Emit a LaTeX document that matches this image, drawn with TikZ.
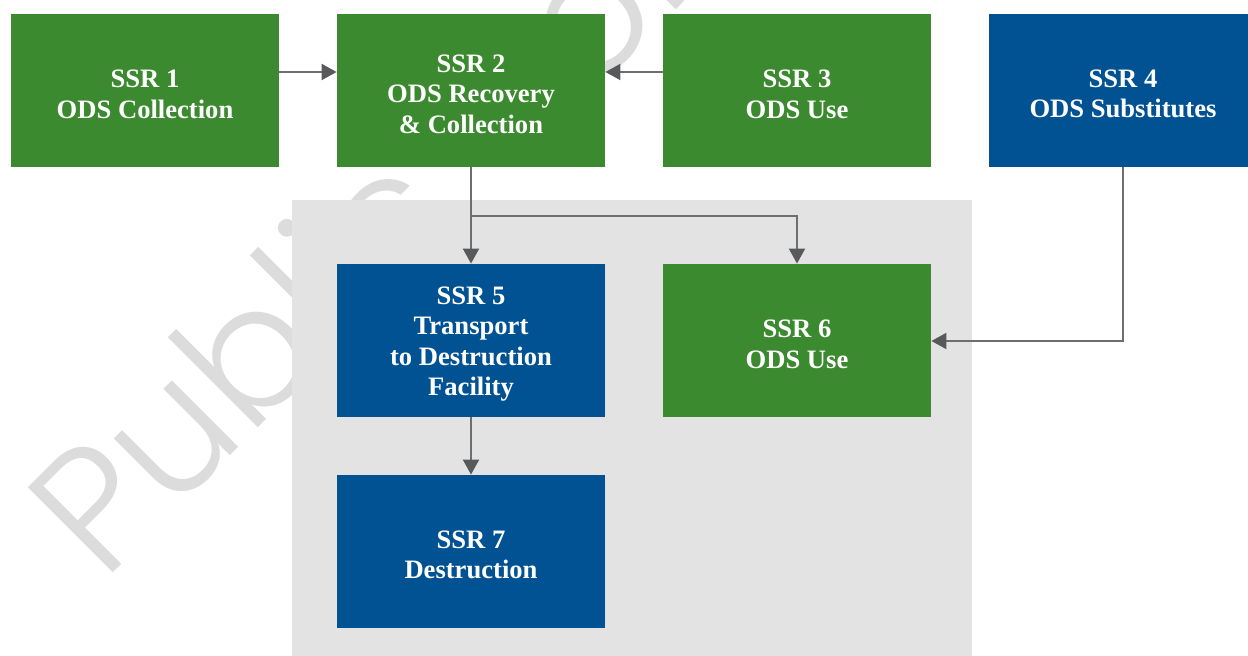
\documentclass[tikz,border=0pt]{standalone}
\usepackage{fontspec}
\setmainfont{Liberation Serif}
\newfontfamily\wmfont{Poppins}[UprightFont={* Light}]
\usetikzlibrary{arrows.meta,calc}
\definecolor{ssrgreen}{HTML}{3C8A2F}
\definecolor{ssrblue}{HTML}{005293}
\definecolor{bggray}{HTML}{E3E3E3}
\definecolor{wmgray}{HTML}{DCDCDC}
\definecolor{linec}{HTML}{6E6E6E}
\definecolor{tipc}{HTML}{58595B}
\newcommand{\tstrut}{\rule{0pt}{12.4pt}}
\begin{document}
\begin{tikzpicture}[x=0.5pt,y=-0.5pt,
  box/.style={rectangle, draw=none, minimum width=134pt, minimum height=76.5pt,
    inner sep=0pt, align=center, text=white,
    font=\fontsize{13.3pt}{15.25pt}\selectfont\bfseries},
  gbox/.style={box, fill=ssrgreen},
  bbox/.style={box, fill=ssrblue},
  conn/.style={draw=linec, line width=1pt,
    -{Triangle[length=7.5pt,width=8pt,color=tipc]}}]
\useasboundingbox (0,0) rectangle (1248,656);
\fill[white] (0,0) rectangle (1248,656);
% watermark
\node[anchor=base west, inner sep=0pt, rotate=45, text=wmgray,
  font=\wmfont\fontsize{86pt}{86pt}\selectfont] (wm) at (103,583) {Public Comment};
% grey zone
\fill[bggray] (292,200) rectangle (972,660);
% boxes
\node[gbox] (n1) at (145,90.5) {\tstrut SSR 1\\ODS Collection};
\node[gbox] (n2) at (471,90.5) {\tstrut SSR 2\\ODS Recovery\\\& Collection};
\node[gbox] (n3) at (797,90.5) {\tstrut SSR 3\\ODS Use};
\node[bbox] (n4) at (1123,90.5) {\tstrut SSR 4\\ODS Substitutes};
\node[bbox] (n5) at (471,340.5) {\tstrut SSR 5\\Transport\\to Destruction\\Facility};
\node[gbox] (n6) at (797,340.5) {\tstrut SSR 6\\ODS Use};
\node[bbox] (n7) at (471,551.5) {\tstrut SSR 7\\Destruction};
% helper coordinates
\coordinate (ytop) at (0,72);
\coordinate (split) at (471,216);
\coordinate (y6) at (0,341);
% connectors
\draw[conn] (n1.east |- ytop) -- (n2.west |- ytop);
\draw[conn] (n3.west |- ytop) -- (n2.east |- ytop);
\draw[conn] (n2.south) -- (n5.north);
\draw[conn] (split) -| (n6.north);
\draw[conn] (n4.south) |- (n6.east |- y6);
\draw[conn] (n5.south) -- (n7.north);
\end{tikzpicture}
\end{document}
